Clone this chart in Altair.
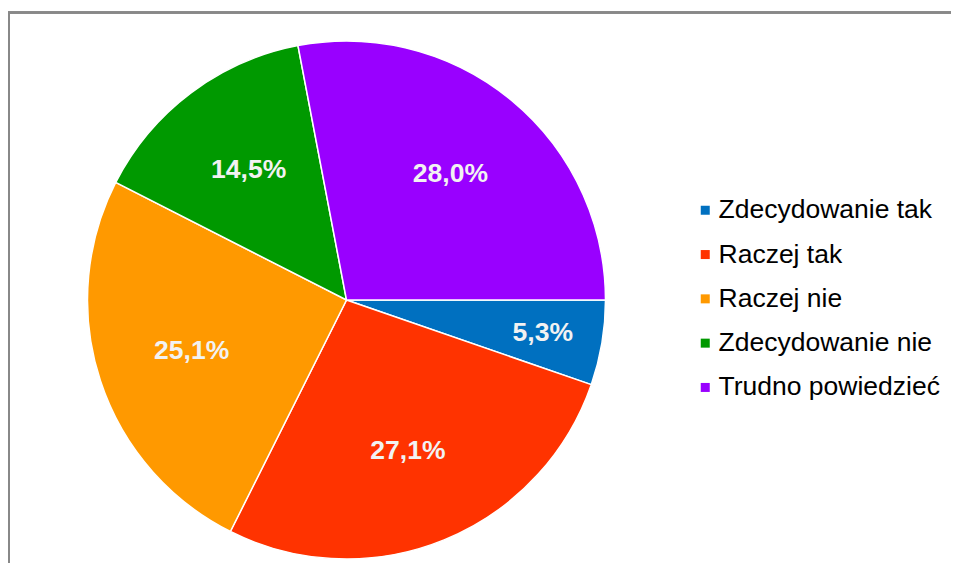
import math
import altair as alt
import pandas as pd

categories = ["Zdecydowanie tak", "Raczej tak", "Raczej nie", "Zdecydowanie nie", "Trudno powiedzieć"]
values = [5.3, 27.1, 25.1, 14.5, 28.0]
labels = ["5,3%", "27,1%", "25,1%", "14,5%", "28,0%"]
colors = ["#0070c0", "#ff3300", "#ff9900", "#009900", "#9900ff"]

df = pd.DataFrame({"cat": categories, "val": values, "label": labels, "idx": list(range(len(categories)))})

CX, CY = 338.5, 292
R = 259

theta = alt.Theta("val:Q", stack=True,
                  scale=alt.Scale(range=[math.pi / 2, math.pi / 2 + 2 * math.pi]))
color = alt.Color("cat:N", sort=categories,
                  scale=alt.Scale(domain=categories, range=colors),
                  legend=alt.Legend(orient="none", legendX=684, legendY=189, title=None,
                                    labelFont="Liberation Sans", labelFontSize=26.5,
                                    labelColor="#000000", symbolType="square",
                                    symbolSize=81, symbolStrokeWidth=0,
                                    rowPadding=17.3, labelOffset=0, labelLimit=400))
order = alt.Order("idx:Q")

base = alt.Chart(df).encode(theta=theta, color=color, order=order,
                            x=alt.value(CX), y=alt.value(CY))

pie = base.mark_arc(radius=R, stroke="white", strokeWidth=1.5)

text_style = dict(font="Liberation Sans", fontSize=26.5, fontWeight="bold",
                  align="center", baseline="middle")

text_big = base.transform_calculate(t="datum.val >= 10 ? datum.label : ''").mark_text(
    radius=163, **text_style).encode(text="t:N", color=alt.value("#f2f2f2"))
text_small = base.transform_calculate(t="datum.val < 10 ? datum.label : ''").mark_text(
    radius=199, **text_style).encode(text="t:N", color=alt.value("#f2f2f2"))

frame_left = alt.Chart(df).mark_rule(color="#888888", strokeWidth=2).encode(
    x=alt.value(1), y=alt.value(4.5), y2=alt.value(600))
frame_top = alt.Chart(df).mark_rule(color="#888888", strokeWidth=2).encode(
    x=alt.value(0), x2=alt.value(1000), y=alt.value(4.5))

chart = alt.layer(frame_left, frame_top, pie, text_big, text_small).properties(
    width=943, height=555, padding=0, autosize=alt.AutoSizeParams(type="none")
).configure_view(stroke=None)

chart.save("out.html", embed_options={"renderer": "svg", "actions": False})
